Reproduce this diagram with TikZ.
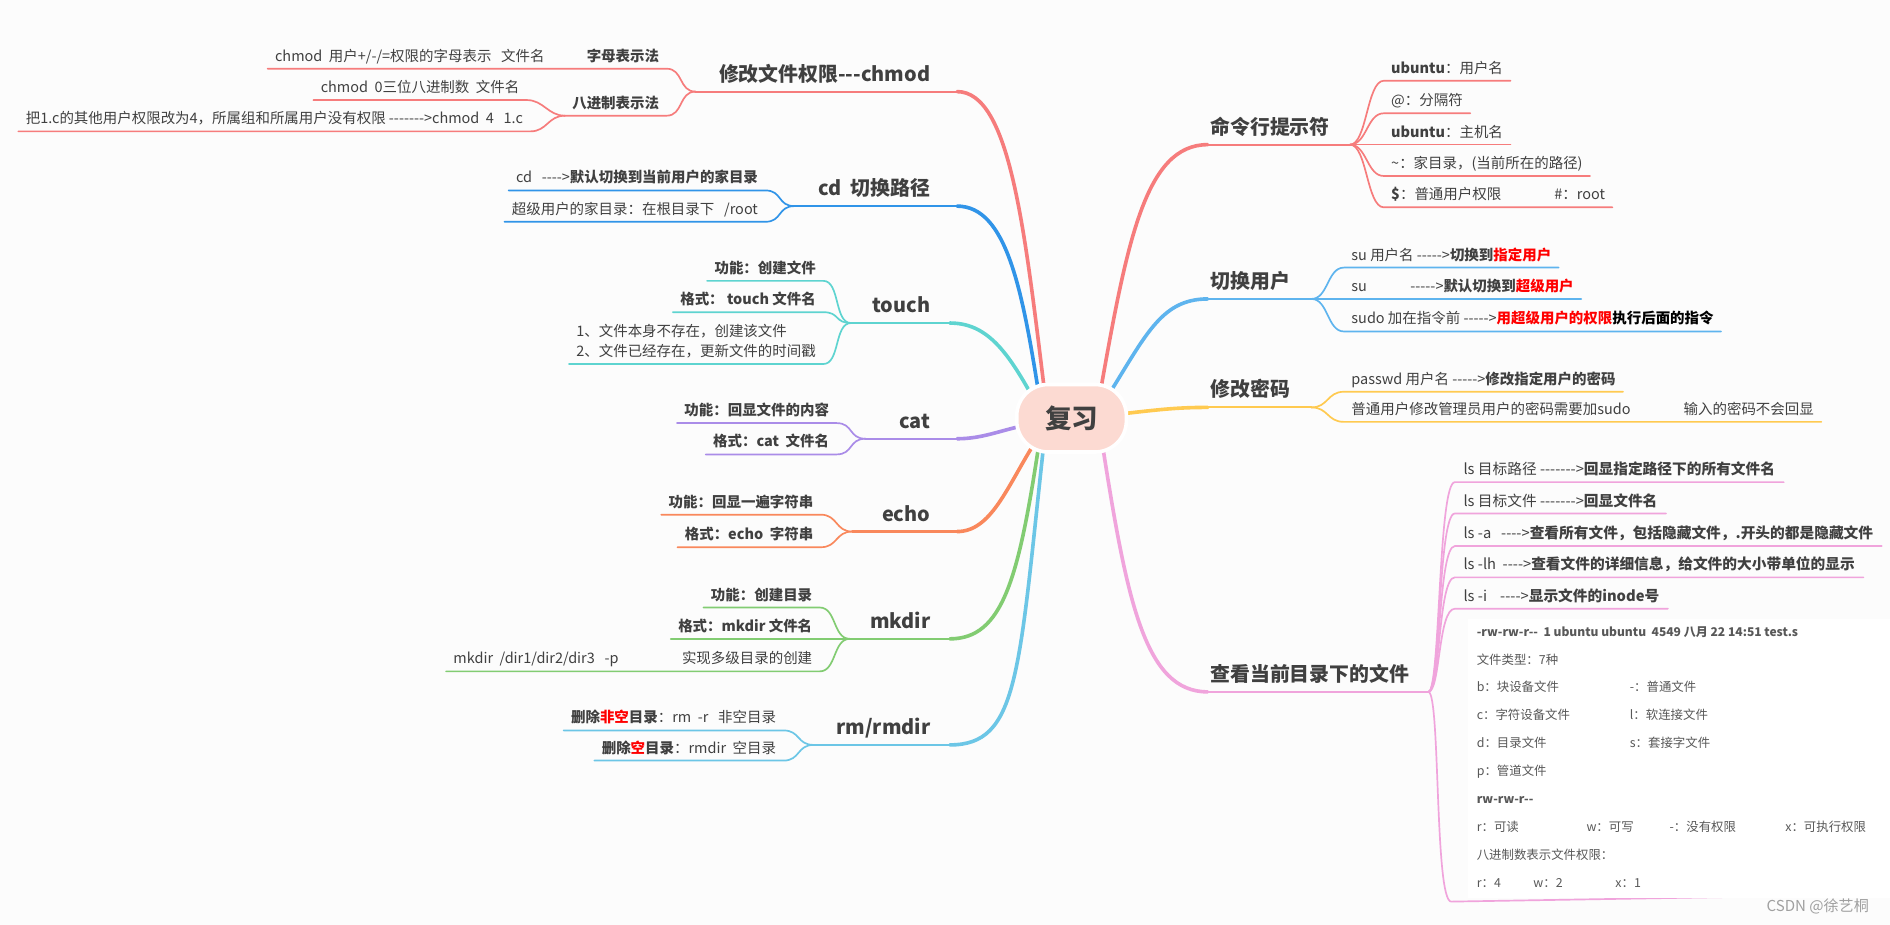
\documentclass[tikz,border=0pt]{standalone}
\usepackage{fontspec}
\setmainfont{Noto Sans CJK SC}[Ligatures=TeXOff]
\usepackage{tikz}
\usetikzlibrary{backgrounds}
\definecolor{txtgray}{RGB}{64,64,64}
\definecolor{shotgray}{RGB}{88,88,88}
\definecolor{pagebg}{RGB}{252,252,252}
\definecolor{rootpink}{RGB}{252,218,210}
\definecolor{brred}{RGB}{246,124,124}
\definecolor{brblue}{RGB}{48,148,232}
\definecolor{brcyan}{RGB}{94,212,208}
\definecolor{brpurple}{RGB}{170,140,232}
\definecolor{brorange}{RGB}{249,136,92}
\definecolor{brgreen}{RGB}{130,204,114}
\definecolor{brsky}{RGB}{108,198,230}
\definecolor{bruser}{RGB}{94,180,238}
\definecolor{bryellow}{RGB}{255,202,80}
\definecolor{brpink}{RGB}{240,164,220}
\definecolor{hired}{RGB}{255,0,0}

\begin{document}
\begin{tikzpicture}[x=1pt, y=-1pt,
    root/.style={rounded corners=26pt, fill=rootpink, draw=white, line width=3pt,
      minimum width=91pt, minimum height=56pt, text=txtgray,
      font=\fontsize{22}{26}\selectfont\bfseries},
    topic/.style={font=\fontsize{16.5}{20}\selectfont\bfseries, text=txtgray,
      inner xsep=2pt, inner ysep=2pt, text height=13pt, text depth=6.5pt},
    leaf/.style={font=\fontsize{12}{17}\selectfont, text=txtgray,
      inner xsep=6pt, inner ysep=2pt, text height=9pt, text depth=4pt},
    leafl/.style={leaf, anchor=south east},
    leafr/.style={leaf, anchor=south west},
    lsleaf/.style={leafr, font=\fontsize{12.2}{17}\selectfont, inner xsep=7pt},
    shot/.style={font=\fontsize{10.3}{13}\selectfont, text=shotgray, inner sep=0pt, anchor=base west},
    shotbold/.style={shot, font=\fontsize{10}{13}\selectfont\bfseries},
    trunk/.style={line width=3pt, line cap=round},
    stem/.style={line width=1.8pt, line cap=round},
    twig/.style={line width=1.4pt, line cap=round}]

    \useasboundingbox (0,0) rectangle (1568,767);

    % Root
    \node[root] (rev) at (889,347) {复习};

    % chmod
    \node[topic, anchor=south east] (chmod) at (774,76) {修改文件权限---chmod};
    \coordinate (jchmod) at (577,76);
    \node[leafl] (letter) at (553,57) {\bfseries 字母表示法};
    \node[leafl] (letterx) at (458,57) {chmod\ \ 用户+/-/=权限的字母表示\ \ \ 文件名};
    \node[leafl] (octal) at (553,96) {\bfseries 八进制表示法};
    \node[leafl] (octalx) at (437,83) {chmod\ \ 0三位八进制数\ \ 文件名};
    \node[leafl] (octaly) at (440,109) {把1.c的其他用户权限改为4，所属组和所属用户没有权限 ------->chmod\ \ 4\ \ \ 1.c};

    % cd
    \node[topic, anchor=south east] (cd) at (774,171) {cd\ \ 切换路径};
    \coordinate (jcd) at (659,171);
    \node[leafl] (cdhome) at (635,158) {cd\ \ \ ---->\textbf{默认切换到当前用户的家目录}};
    \node[leafl] (cdroot) at (635,184) {超级用户的家目录：在根目录下\ \ \ /root};

    % touch
    \node[topic, anchor=south east] (touch) at (774,268) {touch};
    \coordinate (jtouch) at (706,268);
    \node[leafl] (touchfn) at (683,233) {\bfseries 功能：创建文件};
    \node[leafl] (touchfmt) at (683,259) {\bfseries 格式：\ touch 文件名};
    \node[leafl, align=left, text height=26pt] (touchnote) at (683,302) {1、文件本身不存在，创建该文件\\2、文件已经存在，更新文件的时间戳};

    % cat
    \node[topic, anchor=south east] (cat) at (774,364) {cat};
    \coordinate (jcat) at (718,364);
    \node[leafl] (catfn) at (694,351) {\bfseries 功能：回显文件的内容};
    \node[leafl] (catfmt) at (694,377) {\bfseries 格式：cat\ \ 文件名};

    % echo
    \node[topic, anchor=south east] (echo) at (774,441) {echo};
    \coordinate (jecho) at (707,441);
    \node[leafl] (echofn) at (681,427) {\bfseries 功能：回显一遍字符串};
    \node[leafl] (echofmt) at (681,454) {\bfseries 格式：echo\ \ 字符串};

    % mkdir
    \node[topic, anchor=south east] (mkdir) at (774,530) {mkdir};
    \coordinate (jmkdir) at (705,530);
    \node[leafl] (mkfn) at (680,504) {\bfseries 功能：创建目录};
    \node[leafl] (mkfmt) at (680,530) {\bfseries 格式：mkdir 文件名};
    \node[leafl] (mkdeep) at (680,557) {实现多级目录的创建};
    \node[leafr] (mkdeepx) at (370,557) {mkdir\ \ /dir1/dir2/dir3\ \ \ -p};

    % rm/rmdir
    \node[topic, anchor=south east] (rm) at (774,618) {rm/rmdir};
    \coordinate (jrm) at (675,618);
    \node[leafl] (rmfull) at (650,606) {\textbf{删除\textcolor{hired}{非空}目录}：rm\ \ -r\ \ \ 非空目录};
    \node[leafl] (rmempty) at (650,631) {\textbf{删除\textcolor{hired}{空}目录}：rmdir\ \ 空目录};

    % prompt
    \node[topic, anchor=south west] (prompt) at (1002,120) {命令行提示符};
    \coordinate (jprompt) at (1120,120);
    \node[leafr] (puser) at (1148,67) {\textbf{ubuntu}：用户名};
    \node[leafr] (psep) at (1148,94) {@：分隔符};
    \node[leafr] (phost) at (1148,120) {\textbf{ubuntu}：主机名};
    \node[leafr] (phome) at (1148,146) {\textasciitilde：家目录，(当前所在的路径)};
    \node[leafr] (pperm) at (1148,172) {\textbf{\$}：普通用户权限\hspace{44pt}\#：root};

    % su
    \node[topic, anchor=south west] (su) at (1002,248) {切换用户};
    \coordinate (jsu) at (1088,248);
    \node[leafr] (suname) at (1115,222) {su 用户名 ----->\textbf{切换到\textcolor{hired}{指定用户}}};
    \node[leafr] (suroot) at (1115,248) {su\hspace{36pt}----->\textbf{默认切换到\textcolor{hired}{超级用户}}};
    \node[leafr] (sudo) at (1115,275) {sudo 加在指令前 ----->\textbf{\textcolor{hired}{用超级用户的权限}\textcolor{black}{执行后面的指令}}};

    % passwd
    \node[topic, anchor=south west] (pwd) at (1002,338) {修改密码};
    \coordinate (jpwd) at (1088,338);
    \node[leafr] (pwdname) at (1115,325) {passwd 用户名 ----->\textbf{修改指定用户的密码}};
    \node[leafr] (pwdsudo) at (1115,350) {普通用户修改管理员用户的密码需要加sudo\hspace{44pt}输入的密码不会回显};

    % ls
    \node[topic, anchor=south west] (ls) at (1002,574) {查看当前目录下的文件};
    \coordinate (jls) at (1185,574);
    \node[lsleaf] (lspath) at (1207,400) {ls 目标路径 ------->\textbf{回显指定路径下的所有文件名}};
    \node[lsleaf] (lsfile) at (1207,426) {ls 目标文件 ------->\textbf{回显文件名}};
    \node[lsleaf] (lsa) at (1207,453) {ls -a\ \ \ ---->\textbf{查看所有文件，包括隐藏文件，.开头的都是隐藏文件}};
    \node[lsleaf] (lslh) at (1207,479) {ls -lh\ \ ---->\textbf{查看文件的详细信息，给文件的大小带单位的显示}};
    \node[lsleaf] (lsi) at (1207,505) {ls -i\ \ \ \ ---->\textbf{显示文件的inode号}};

    % screenshot box
    \node[fill=white, inner sep=0pt, anchor=south west, minimum width=350pt, minimum height=231pt] (shotbox) at (1218,745) {};
    \node[shotbold] (s1) at (1225,528) {-rw-rw-r--\ \ 1 ubuntu ubuntu\ \ 4549 八月 22 14:51 test.s};
    \node[shot] (s2) at (1225,551) {文件类型：7种};
    \node[shot] (s3) at (1225,574) {b：块设备文件};
    \node[shot] (s4) at (1352,574) {-：普通文件};
    \node[shot] (s5) at (1225,597) {c：字符设备文件};
    \node[shot] (s6) at (1352,597) {l：软连接文件};
    \node[shot] (s7) at (1225,620) {d：目录文件};
    \node[shot] (s8) at (1352,620) {s：套接字文件};
    \node[shot] (s9) at (1225,643) {p：管道文件};
    \node[shotbold] (s10) at (1225,667) {rw-rw-r--};
    \node[shot] (s11) at (1225,690) {r：可读};
    \node[shot] (s12) at (1316,690) {w：可写};
    \node[shot] (s13) at (1385,690) {-：没有权限};
    \node[shot] (s14) at (1481,690) {x：可执行权限};
    \node[shot] (s15) at (1225,713) {八进制数表示文件权限：};
    \node[shot] (s16) at (1225,736) {r：4};
    \node[shot] (s17) at (1272,736) {w：2};
    \node[shot] (s18) at (1340,736) {x：1};

    % watermark
    \node[font=\fontsize{12.5}{15}\selectfont, text={rgb,255:red,160;green,160;blue,160}] (mark) at (1508,752) {CSDN @徐艺桐};

    \begin{scope}[on background layer]
    \fill[pagebg] (0,0) rectangle (1568,767);
    % trunks
    \draw[trunk, brred] ([shift={(-22,-19)}]rev.center) .. controls (850,190) and (838,76) .. ([xshift=20pt]chmod.south east);
    \draw[stem, brred] ([xshift=20pt]chmod.south east) -- (jchmod);
    \draw[trunk, brblue] ([shift={(-27,-19)}]rev.center) .. controls (848,240) and (835,171) .. ([xshift=20pt]cd.south east);
    \draw[stem, brblue] ([xshift=20pt]cd.south east) -- (jcd);
    \draw[trunk, brcyan] ([shift={(-32,-17)}]rev.center) .. controls (835,290) and (818,268) .. ([xshift=14pt]touch.south east);
    \draw[stem, brcyan] ([xshift=14pt]touch.south east) -- (jtouch);
    \draw[trunk, brpurple] ([shift={(-39,6)}]rev.center) .. controls (830,357) and (815,364) .. ([xshift=20pt]cat.south east);
    \draw[stem, brpurple] ([xshift=20pt]cat.south east) -- (jcat);
    \draw[trunk, brorange] ([shift={(-31,21)}]rev.center) .. controls (835,405) and (822,441) .. ([xshift=20pt]echo.south east);
    \draw[stem, brorange] ([xshift=20pt]echo.south east) -- (jecho);
    \draw[trunk, brgreen] ([shift={(-27,21)}]rev.center) .. controls (845,480) and (832,530) .. ([xshift=14pt]mkdir.south east);
    \draw[stem, brgreen] ([xshift=14pt]mkdir.south east) -- (jmkdir);
    \draw[trunk, brsky] ([shift={(-23,21)}]rev.center) .. controls (845,560) and (845,618) .. ([xshift=14pt]rm.south east);
    \draw[stem, brsky] ([xshift=14pt]rm.south east) -- (jrm);
    \draw[trunk, brred] ([shift={(23,-17)}]rev.center) .. controls (935,200) and (950,120) .. (prompt.south west);
    \draw[stem, brred] (prompt.south west) -- (jprompt);
    \draw[trunk, bruser] ([shift={(26,-12)}]rev.center) .. controls (950,280) and (962,248) .. (su.south west);
    \draw[stem, bruser] (su.south west) -- (jsu);
    \draw[trunk, bryellow] ([shift={(36,-3)}]rev.center) .. controls (960,340) and (975,338) .. (pwd.south west);
    \draw[stem, bryellow] (pwd.south west) -- (jpwd);
    \draw[trunk, brpink] ([shift={(25,18)}]rev.center) .. controls (935,500) and (950,574) .. (ls.south west);
    \draw[stem, brpink] (ls.south west) -- (jls);

    % twigs left
    \draw[twig, brred] (letterx.south west) -- (letter.south east) .. controls +(14,0) and +(-14,0) .. (jchmod);
    \draw[twig, brred] (octal.south west) -- (octal.south east) .. controls +(14,0) and +(-14,0) .. (jchmod);
    \draw[twig, brred] (octalx.south west) -- (octalx.south east) .. controls +(14,0) and +(-14,0) .. (octal.south west);
    \draw[twig, brred] (octaly.south west) -- (octaly.south east) .. controls +(14,0) and +(-14,0) .. (octal.south west);
    \draw[twig, brblue] (cdhome.south west) -- (cdhome.south east) .. controls +(14,0) and +(-14,0) .. (jcd);
    \draw[twig, brblue] (cdroot.south west) -- (cdroot.south east) .. controls +(14,0) and +(-14,0) .. (jcd);
    \draw[twig, brcyan] (touchfn.south west) -- (touchfn.south east) .. controls +(14,0) and +(-14,0) .. (jtouch);
    \draw[twig, brcyan] (touchfmt.south west) -- (touchfmt.south east) .. controls +(14,0) and +(-14,0) .. (jtouch);
    \draw[twig, brcyan] (touchnote.south west) -- (touchnote.south east) .. controls +(14,0) and +(-14,0) .. (jtouch);
    \draw[twig, brpurple] (catfn.south west) -- (catfn.south east) .. controls +(14,0) and +(-14,0) .. (jcat);
    \draw[twig, brpurple] (catfmt.south west) -- (catfmt.south east) .. controls +(14,0) and +(-14,0) .. (jcat);
    \draw[twig, brorange] (echofn.south west) -- (echofn.south east) .. controls +(14,0) and +(-14,0) .. (jecho);
    \draw[twig, brorange] (echofmt.south west) -- (echofmt.south east) .. controls +(14,0) and +(-14,0) .. (jecho);
    \draw[twig, brgreen] (mkfn.south west) -- (mkfn.south east) .. controls +(14,0) and +(-14,0) .. (jmkdir);
    \draw[twig, brgreen] (mkfmt.south west) -- (jmkdir);
    \draw[twig, brgreen] (mkdeepx.south west) -- (mkdeep.south east) .. controls +(14,0) and +(-14,0) .. (jmkdir);
    \draw[twig, brsky] (rmfull.south west) -- (rmfull.south east) .. controls +(14,0) and +(-14,0) .. (jrm);
    \draw[twig, brsky] (rmempty.south west) -- (rmempty.south east) .. controls +(14,0) and +(-14,0) .. (jrm);

    % twigs right
    \foreach \n in {puser,psep,phost,phome,pperm}
      \draw[twig, brred] (jprompt) .. controls +(14,0) and +(-14,0) .. (\n.south west) -- (\n.south east);
    \foreach \n in {suname,suroot,sudo}
      \draw[twig, bruser] (jsu) .. controls +(14,0) and +(-14,0) .. (\n.south west) -- (\n.south east);
    \foreach \n in {pwdname,pwdsudo}
      \draw[twig, bryellow] (jpwd) .. controls +(14,0) and +(-14,0) .. (\n.south west) -- (\n.south east);
    \foreach \n in {lspath,lsfile,lsa,lslh,lsi}
      \draw[twig, brpink] (jls) .. controls +(10,0) and +(-14,0) .. (\n.south west) -- (\n.south east);
    \draw[twig, brpink] (jls) .. controls +(10,0) and +(-14,0) .. ([shift={(-14,3)}]shotbox.south west) -- ([yshift=3pt]shotbox.south east);
    \end{scope}
\end{tikzpicture}
\end{document}
